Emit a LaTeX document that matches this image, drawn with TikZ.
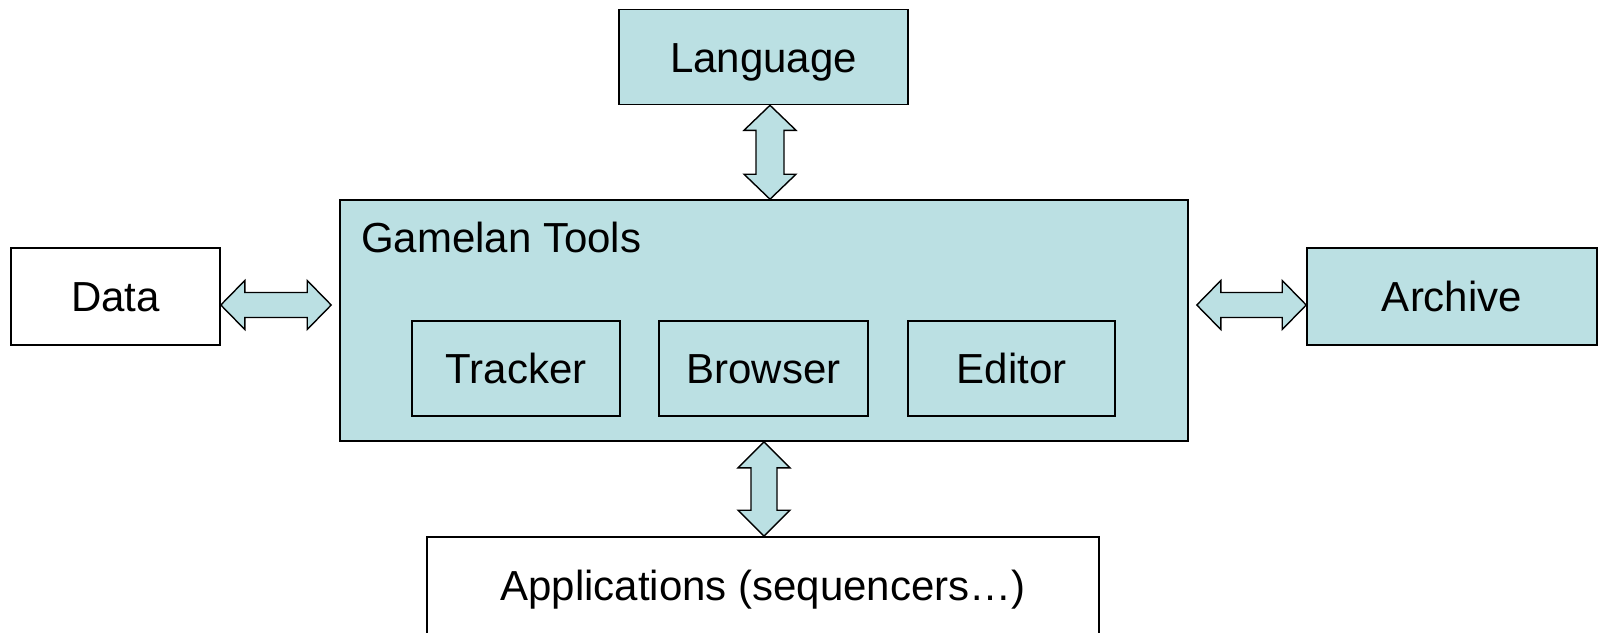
\documentclass[tikz,border=0pt]{standalone}
\usepackage{fontspec}
\setmainfont{Liberation Sans}
\usetikzlibrary{calc}
\definecolor{teal}{RGB}{187,224,227}
\tikzset{
  box/.style={draw=black, line width=1.6pt, fill=teal, inner sep=0pt, text height=30pt, text depth=0pt, font=\fontsize{42}{50}\selectfont},
  wbox/.style={box, fill=white},
  arr/.style={draw=black, line width=1.4pt, fill=teal, line join=miter},
}
\begin{document}
\begin{tikzpicture}[x=1pt,y=-1pt]
\useasboundingbox (0,0) rectangle (1603,632);
\node[box, minimum width=289pt, minimum height=95pt] (lang) at (763.5,57) {Language};
\node[box, minimum width=848pt, minimum height=241pt] (gam) at (764,320.5) {};
\node[anchor=base west, inner sep=0pt, font=\fontsize{42}{50}\selectfont] (gamt) at (361,252) {Gamelan Tools};
\node[wbox, minimum width=209pt, minimum height=97pt] (data) at (115.5,296.5) {Data};
\node[box, minimum width=290pt, minimum height=97pt] (arch) at (1452,296.5) {Archive};
\node[box, minimum width=208pt, minimum height=95pt] (track) at (516,368.5) {Tracker};
\node[box, minimum width=209pt, minimum height=95pt] (brow) at (763.5,368.5) {Browser};
\node[box, minimum width=207pt, minimum height=95pt] (edit) at (1011.5,368.5) {Editor};
\node[wbox, minimum width=672pt, minimum height=104pt, text depth=8pt] (apps) at (763,589) {Applications (sequencers…)};
% vertical arrow Language <-> Gamelan
\coordinate (t1) at ($(lang.south)+(6.5,0)$);
\coordinate (b1) at ($(gam.north)+(6,0)$);
\draw[arr] (t1) -- ++(26,25) -- ++(-12,0) -- ($(b1)+(14,-25)$) -- ++(12,0) -- (b1)
  -- ++(-26,-25) -- ++(12,0) -- ($(t1)+(-14,25)$) -- ++(-12,0) -- cycle;
% vertical arrow Gamelan <-> Applications
\coordinate (t2) at (gam.south);
\coordinate (b2) at ($(apps.north)+(1,0)$);
\draw[arr] (t2) -- ++(26,26) -- ++(-13,0) -- ($(b2)+(13,-26)$) -- ++(13,0) -- (b2)
  -- ++(-26,-26) -- ++(13,0) -- ($(t2)+(-13,26)$) -- ++(-13,0) -- cycle;
% horizontal arrow Data <-> Gamelan
\coordinate (l3) at ($(data.east)+(0,8.5)$);
\coordinate (r3) at ($(gam.west)+(-8,-15.5)$);
\draw[arr] (l3) -- ++(24,-24.5) -- ++(0,12) -- ($(r3)+(-24,-12.5)$) -- ++(0,-12) -- (r3)
  -- ++(-24,24.5) -- ++(0,-12) -- ($(l3)+(24,12.5)$) -- ++(0,12) -- cycle;
% horizontal arrow Gamelan <-> Archive
\coordinate (l4) at ($(gam.east)+(8,-15.5)$);
\coordinate (r4) at ($(arch.west)+(0,8.5)$);
\draw[arr] (l4) -- ++(24,-24.5) -- ++(0,12) -- ($(r4)+(-24,-12.5)$) -- ++(0,-12) -- (r4)
  -- ++(-24,24.5) -- ++(0,-12) -- ($(l4)+(24,12.5)$) -- ++(0,12) -- cycle;
\end{tikzpicture}
\end{document}
